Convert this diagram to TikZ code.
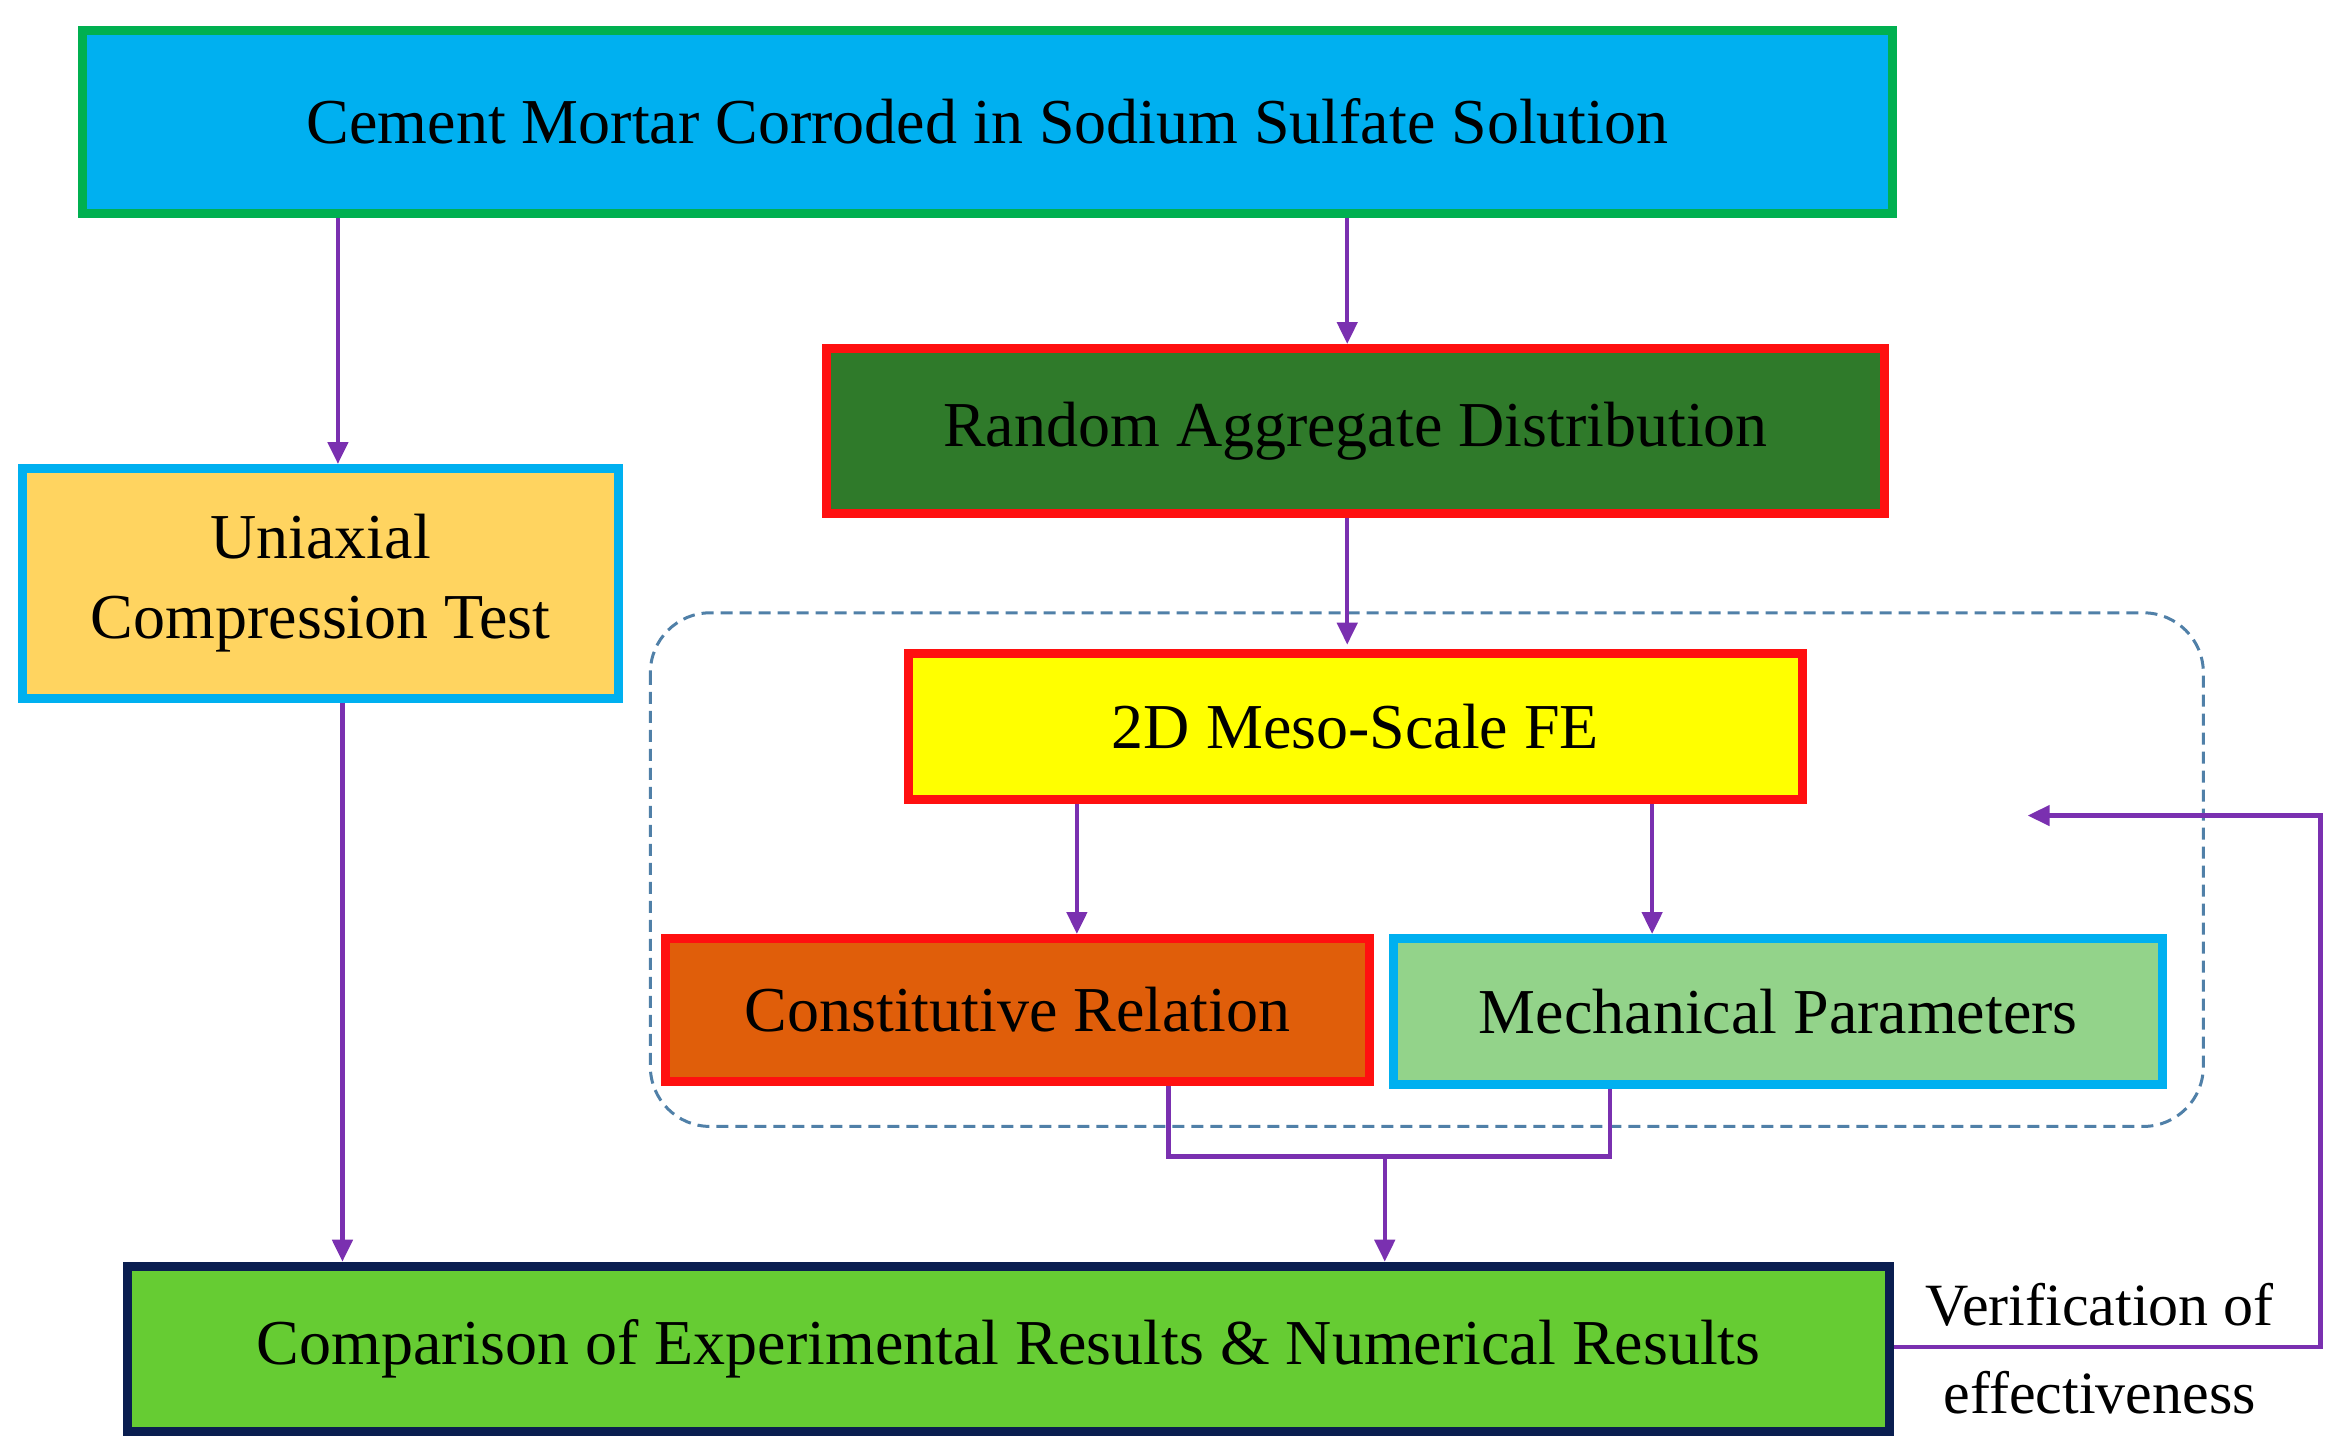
\documentclass[tikz,border=0pt]{standalone}
\usepackage{fontspec}
\setmainfont{Liberation Serif}
\usetikzlibrary{arrows.meta}
\definecolor{cy}{HTML}{00B0F0}
\definecolor{gr}{HTML}{00B050}
\definecolor{dg}{HTML}{2F7A2A}
\definecolor{rd}{HTML}{FF1010}
\definecolor{yo}{HTML}{FFD460}
\definecolor{ye}{HTML}{FFFF00}
\definecolor{org}{HTML}{E05E0A}
\definecolor{lg}{HTML}{93D38A}
\definecolor{cg}{HTML}{66CC33}
\definecolor{nv}{HTML}{0A1E50}
\definecolor{pu}{HTML}{7A30B0}
\definecolor{db}{HTML}{5080A8}
\begin{document}
\begin{tikzpicture}[x=1.502pt,y=-1.502pt,
  box/.style={draw,line width=9pt,inner sep=0pt,align=center,font=\fontsize{64}{80}\selectfont},
  arr/.style={draw=pu,line width=4.5pt,-{Triangle[length=22pt,width=20pt]}},
  ln/.style={draw=pu,line width=4.5pt}]
\useasboundingbox (0,0) rectangle (1560,968);
\node[box,draw=gr,fill=cy,minimum width=1810pt,minimum height=183pt] (top) at (657.5,81) {Cement Mortar Corroded in Sodium Sulfate Solution};
\node[box,draw=rd,fill=dg,minimum width=1059pt,minimum height=165pt] (rad) at (902.5,287) {Random Aggregate Distribution};
\node[box,draw=cy,fill=yo,minimum width=596pt,minimum height=230pt] (uni) at (213.5,388.5) {Uniaxial\\Compression Test};
\draw[db,line width=3pt,dash pattern=on 12pt off 7pt,rounded corners=60pt] (433,408) rectangle (1467,750);
\node[box,draw=rd,fill=ye,minimum width=894pt,minimum height=146pt] (fe) at (902.5,483.5) {2D Meso-Scale FE};
\node[box,draw=rd,fill=org,minimum width=704pt,minimum height=143pt] (con) at (677.5,672.5) {Constitutive Relation};
\node[box,draw=cy,fill=lg,minimum width=769pt,minimum height=146pt] (mec) at (1184,673.5) {Mechanical Parameters};
\node[box,draw=nv,fill=cg,minimum width=1762pt,minimum height=165pt] (cmp) at (671.5,898) {Comparison of Experimental Results \& Numerical Results};
\node[align=center,font=\fontsize{60}{88}\selectfont,inner sep=0pt] (ver) at (1398,898) {Verification of\\effectiveness};
\coordinate (xa) at (225,0);
\coordinate (xb) at (897,0);
\coordinate (xc) at (228,0);
\coordinate (xd) at (717,0);
\coordinate (xe) at (1100,0);
\coordinate (xf) at (778,0);
\coordinate (xg) at (1072,0);
\coordinate (xh) at (922,0);
\coordinate (yj) at (0,770);
\coordinate (fb1) at (1545,897);
\coordinate (fb2) at (1545,543);
\coordinate (fb3) at (1350,543);
\draw[arr] (top.south -| xa) -- (uni.north -| xa);
\draw[arr] (top.south -| xb) -- (rad.north -| xb);
\draw[arr] (rad.south -| xb) -- ([yshift=4pt]fe.north -| xb);
\draw[arr] (uni.south -| xc) -- (cmp.north -| xc);
\draw[arr] (fe.south -| xd) -- (con.north -| xd);
\draw[arr] (fe.south -| xe) -- (mec.north -| xe);
\draw[ln] (con.south -| xf) -- (yj -| xf) -- (yj -| xg) -- (mec.south -| xg);
\draw[arr] (yj -| xh) -- (cmp.north -| xh);
\draw[arr] (cmp.east |- fb1) -- (fb1) -- (fb2) -- (fb3);
\end{tikzpicture}
\end{document}
